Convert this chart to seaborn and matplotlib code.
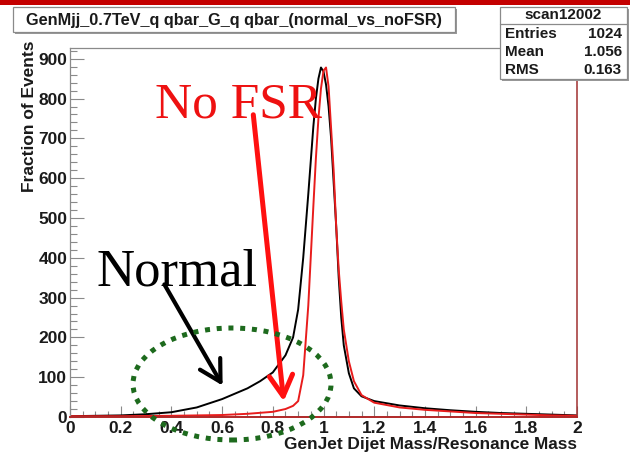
import pandas as pd
import matplotlib
matplotlib.use("Agg")
import matplotlib.pyplot as plt
from matplotlib.patches import Rectangle, Ellipse, FancyArrowPatch
from matplotlib.lines import Line2D
from matplotlib.ticker import MultipleLocator
import seaborn as sns

# values (GenJet dijet mass / resonance mass vs events)
normal_ratio = [0.0, 0.1, 0.2, 0.3, 0.4, 0.5, 0.6, 0.7, 0.75, 0.8, 0.85, 0.88, 0.9, 0.92,
                0.94, 0.96, 0.97, 0.98, 0.99, 1.0, 1.01, 1.02, 1.03, 1.04, 1.05, 1.06,
                1.07, 1.08, 1.1, 1.12, 1.15, 1.2, 1.3, 1.4, 1.5, 1.6, 1.7, 1.8, 1.9, 2.0]
normal_events = [2, 3, 4, 7, 12, 24, 45, 72, 90, 112, 155, 200, 270, 400,
                 560, 730, 800, 850, 878, 868, 835, 780, 700, 590, 480, 350,
                 250, 180, 110, 72, 52, 40, 29, 22, 17, 13, 10, 8, 6, 4]

nofsr_ratio = [0.0, 0.2, 0.4, 0.6, 0.7, 0.8, 0.85, 0.88, 0.9, 0.92, 0.94, 0.96, 0.97,
               0.98, 0.99, 1.0, 1.01, 1.02, 1.03, 1.04, 1.05, 1.06, 1.07, 1.08, 1.1,
               1.12, 1.15, 1.2, 1.3, 1.4, 1.5, 1.6, 1.7, 1.8, 1.9, 2.0]
nofsr_events = [2, 2, 3, 5, 8, 13, 20, 28, 40, 105, 280, 530, 650,
                750, 825, 870, 878, 830, 725, 620, 480, 370, 290, 220, 140,
                90, 55, 36, 24, 18, 14, 10, 8, 6, 4, 3]

title_text = "GenMjj_0.7TeV_q qbar_G_q qbar_(normal_vs_noFSR)"
stats_name = "scan12002"
stats_rows = [("Entries", "1024"), ("Mean", "1.056"), ("RMS", "0.163")]

W, H = 630, 457


def fx(px):
    return px / W


def fy(py):
    return 1 - py / H


sns.set_style("ticks")
plt.rcParams['font.family'] = ['Liberation Sans', 'DejaVu Sans']

fig = plt.figure(figsize=(6.3, 4.57), dpi=100)
ax = fig.add_axes([fx(70), fy(417), 507 / W, 369 / H])

df_normal = pd.DataFrame({"ratio": normal_ratio, "events": normal_events})
df_nofsr = pd.DataFrame({"ratio": nofsr_ratio, "events": nofsr_events})

sns.lineplot(data=df_normal, x="ratio", y="events", color="black", lw=1.4, ax=ax)
sns.lineplot(data=df_nofsr, x="ratio", y="events", color="#e81c1c", lw=1.4, ax=ax)

ax.set_xlim(0, 2)
ax.set_ylim(0, 927)
ax.set_xlabel("")
ax.set_ylabel("")
ax.xaxis.set_major_locator(MultipleLocator(0.2))
ax.xaxis.set_minor_locator(MultipleLocator(0.05))
ax.yaxis.set_major_locator(MultipleLocator(100))
ax.yaxis.set_minor_locator(MultipleLocator(20))
ax.set_xticklabels([f"{v:g}" for v in ax.get_xticks()])
ax.tick_params(which="both", direction="in", colors="#8a8a8a", labelcolor="#1a1a1a",
               top=False, right=False)
ax.tick_params(axis="y", which="major", length=10, width=0.8, pad=2, labelsize=12.5)
ax.tick_params(axis="y", which="minor", length=5, width=0.8)
ax.tick_params(axis="x", which="major", length=8, width=0.8, pad=3, labelsize=12.5)
ax.tick_params(axis="x", which="minor", length=4, width=0.8)
for lbl in ax.get_xticklabels() + ax.get_yticklabels():
    lbl.set_fontweight("bold")
for side in ["left", "top"]:
    ax.spines[side].set_color("#8a8a8a")
    ax.spines[side].set_linewidth(0.9)
ax.spines["right"].set_color("#a03030")
ax.spines["bottom"].set_color("#b02828")
ax.spines["right"].set_linewidth(1.1)
ax.spines["bottom"].set_linewidth(1.4)

fig.text(fx(30), fy(40), "Fraction of Events", rotation=90, ha="center", va="top",
         fontsize=12.5, fontweight="bold", color="#1a1a1a")
fig.text(fx(577), fy(444), "GenJet Dijet Mass/Resonance Mass", ha="right", va="center",
         fontsize=12.4, fontweight="bold", color="#1a1a1a")

# red stripe along the top of the slide
fig.add_artist(Rectangle((0, fy(5)), 1, 5 / H, transform=fig.transFigure,
                         facecolor="#c40000", edgecolor="none", zorder=5))

# title box
fig.add_artist(Rectangle((fx(15), fy(34)), 442 / W, 25 / H, transform=fig.transFigure,
                         facecolor="#9a9a9a", edgecolor="none", zorder=5))
fig.add_artist(Rectangle((fx(13), fy(32)), 442 / W, 25 / H, transform=fig.transFigure,
                         facecolor="white", edgecolor="#8a8a8a", lw=0.9, zorder=6))
fig.text(fx(234), fy(20), title_text, ha="center", va="center", fontsize=11.7,
         fontweight="bold", color="#1a1a1a", zorder=7)

# stats box
fig.add_artist(Rectangle((fx(502), fy(81)), 127 / W, 72 / H, transform=fig.transFigure,
                         facecolor="#9a9a9a", edgecolor="none", zorder=5))
fig.add_artist(Rectangle((fx(500), fy(79)), 127 / W, 72 / H, transform=fig.transFigure,
                         facecolor="white", edgecolor="#8a8a8a", lw=0.9, zorder=6))
fig.add_artist(Line2D([fx(500), fx(627)], [fy(24), fy(24)], transform=fig.transFigure,
                      color="#8a8a8a", lw=0.9, zorder=7))
fig.text(fx(563), fy(15), stats_name, ha="center", va="center", fontsize=11,
         fontweight="bold", color="#1a1a1a", zorder=7)
for i, (name, val) in enumerate(stats_rows):
    yy = fy(34 + 18 * i)
    fig.text(fx(505), yy, name, ha="left", va="center", fontsize=11,
             fontweight="bold", color="#1a1a1a", zorder=7)
    fig.text(fx(622), yy, val, ha="right", va="center", fontsize=11,
             fontweight="bold", color="#1a1a1a", zorder=7)

# hand-drawn annotations on the slide
fig.text(fx(155), fy(118), "No FSR", ha="left", va="baseline", fontsize=37,
         family="Liberation Serif", color="#ee1111", zorder=8)
fig.text(fx(96), fy(285), "Normal", ha="left", va="baseline", fontsize=38,
         family="Liberation Serif", color="black", zorder=8)

fig.add_artist(FancyArrowPatch((fx(253), fy(112)), (fx(284), fy(404)),
                               transform=fig.transFigure,
                               arrowstyle="->,head_length=0.75,head_width=0.42",
                               mutation_scale=20, color="#ff1010", lw=3.6, zorder=8))
fig.add_artist(FancyArrowPatch((fx(163), fy(282)), (fx(224), fy(388)),
                               transform=fig.transFigure,
                               arrowstyle="->,head_length=0.75,head_width=0.42",
                               mutation_scale=20, color="black", lw=3.0, zorder=8))
fig.add_artist(Ellipse((fx(232), fy(384)), 198 / W, 112 / H, transform=fig.transFigure,
                       fill=False, edgecolor="#1d6a1d", lw=3.6,
                       linestyle=(0, (1, 1.35)), zorder=8))

fig.savefig("out.png", dpi=100, facecolor="white")
